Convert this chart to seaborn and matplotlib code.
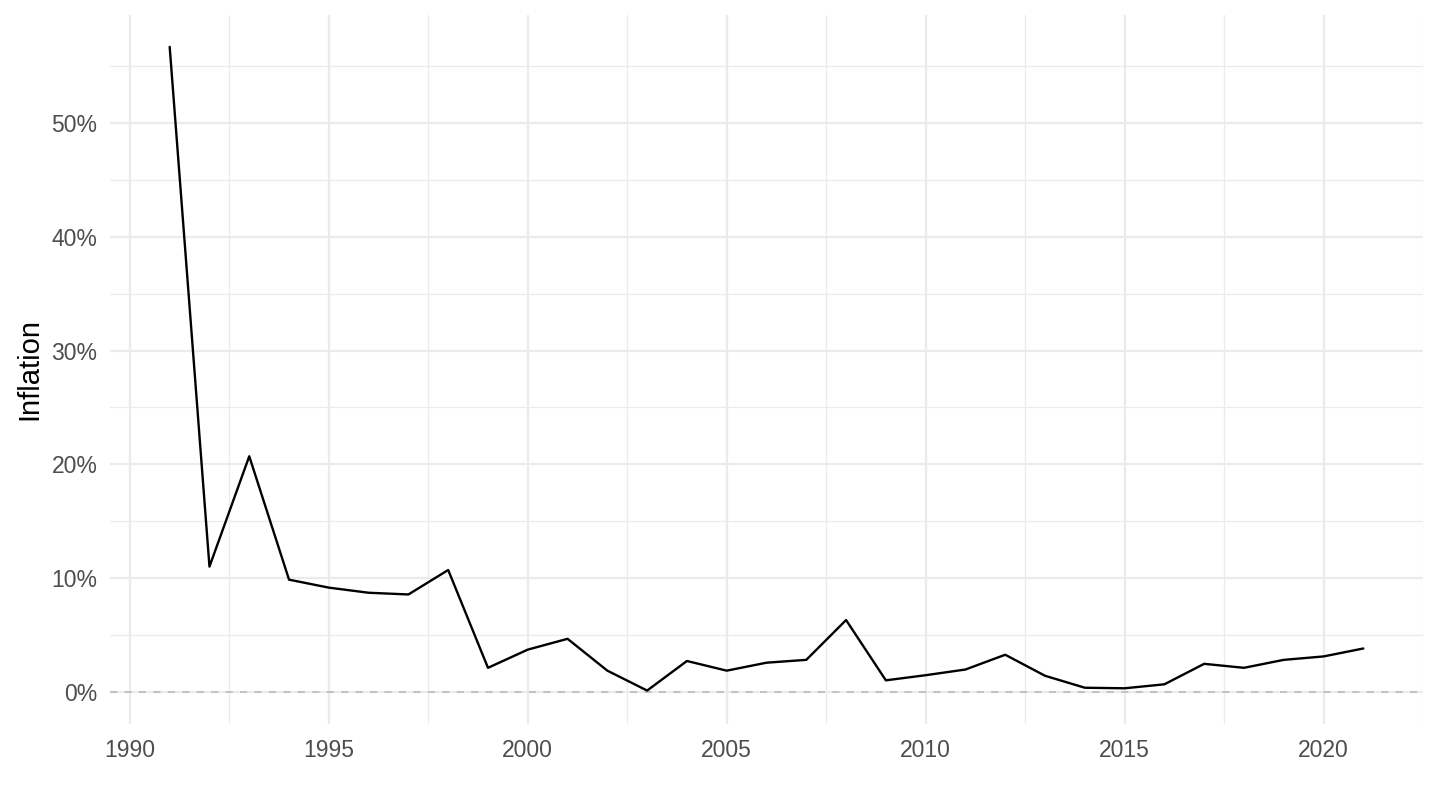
import matplotlib
matplotlib.use("Agg")
import numpy as np
import pandas as pd
import matplotlib.pyplot as plt
import seaborn as sns
from matplotlib.ticker import MultipleLocator, FuncFormatter

# datos
years = list(range(1991, 2022))
inflation = [56.7, 11.0, 20.7, 9.85, 9.15, 8.7, 8.55, 10.7, 2.1, 3.7,
             4.65, 1.85, 0.1, 2.7, 1.85, 2.55, 2.8, 6.3, 1.0, 1.45,
             1.95, 3.25, 1.4, 0.35, 0.3, 0.65, 2.45, 2.1, 2.8, 3.1, 3.8]

df = pd.DataFrame({"year": years, "inflation": inflation})

sns.set_theme(style="white")
plt.rcParams['font.family'] = ['Liberation Sans', 'DejaVu Sans']

fig = plt.figure(figsize=(14.4, 8.1), dpi=100)
ax = fig.add_axes([110 / 1440, 86 / 810, 1313 / 1440, 709 / 810])

# grilla estilo ggplot
ax.set_axisbelow(True)
ax.xaxis.set_major_locator(MultipleLocator(5))
ax.xaxis.set_minor_locator(MultipleLocator(2.5))
ax.yaxis.set_major_locator(MultipleLocator(10))
ax.yaxis.set_minor_locator(MultipleLocator(5))
ax.grid(which="major", color="#EBEBEB", linewidth=1.6)
ax.grid(which="minor", color="#EBEBEB", linewidth=0.9)

ax.axhline(0, color="#BEBEBE", linewidth=1.3, linestyle=(0, (4, 4)), zorder=1)
sns.lineplot(data=df, x="year", y="inflation", color="black", linewidth=1.7, ax=ax, zorder=3)

ax.set_xlim(1989.5, 2022.5)
ax.set_ylim(-2.84, 59.5)
ax.yaxis.set_major_formatter(FuncFormatter(lambda v, p: f"{v:.0f}%"))

for s in ax.spines.values():
    s.set_visible(False)
ax.tick_params(axis="both", which="both", length=0, labelsize=16.5, labelcolor="#4D4D4D")
ax.tick_params(axis="x", pad=11)
ax.tick_params(axis="y", pad=9)

ax.set_xlabel("")
ax.set_ylabel("Inflation", fontsize=21, color="black", labelpad=6)

fig.savefig("out.png", dpi=100)
